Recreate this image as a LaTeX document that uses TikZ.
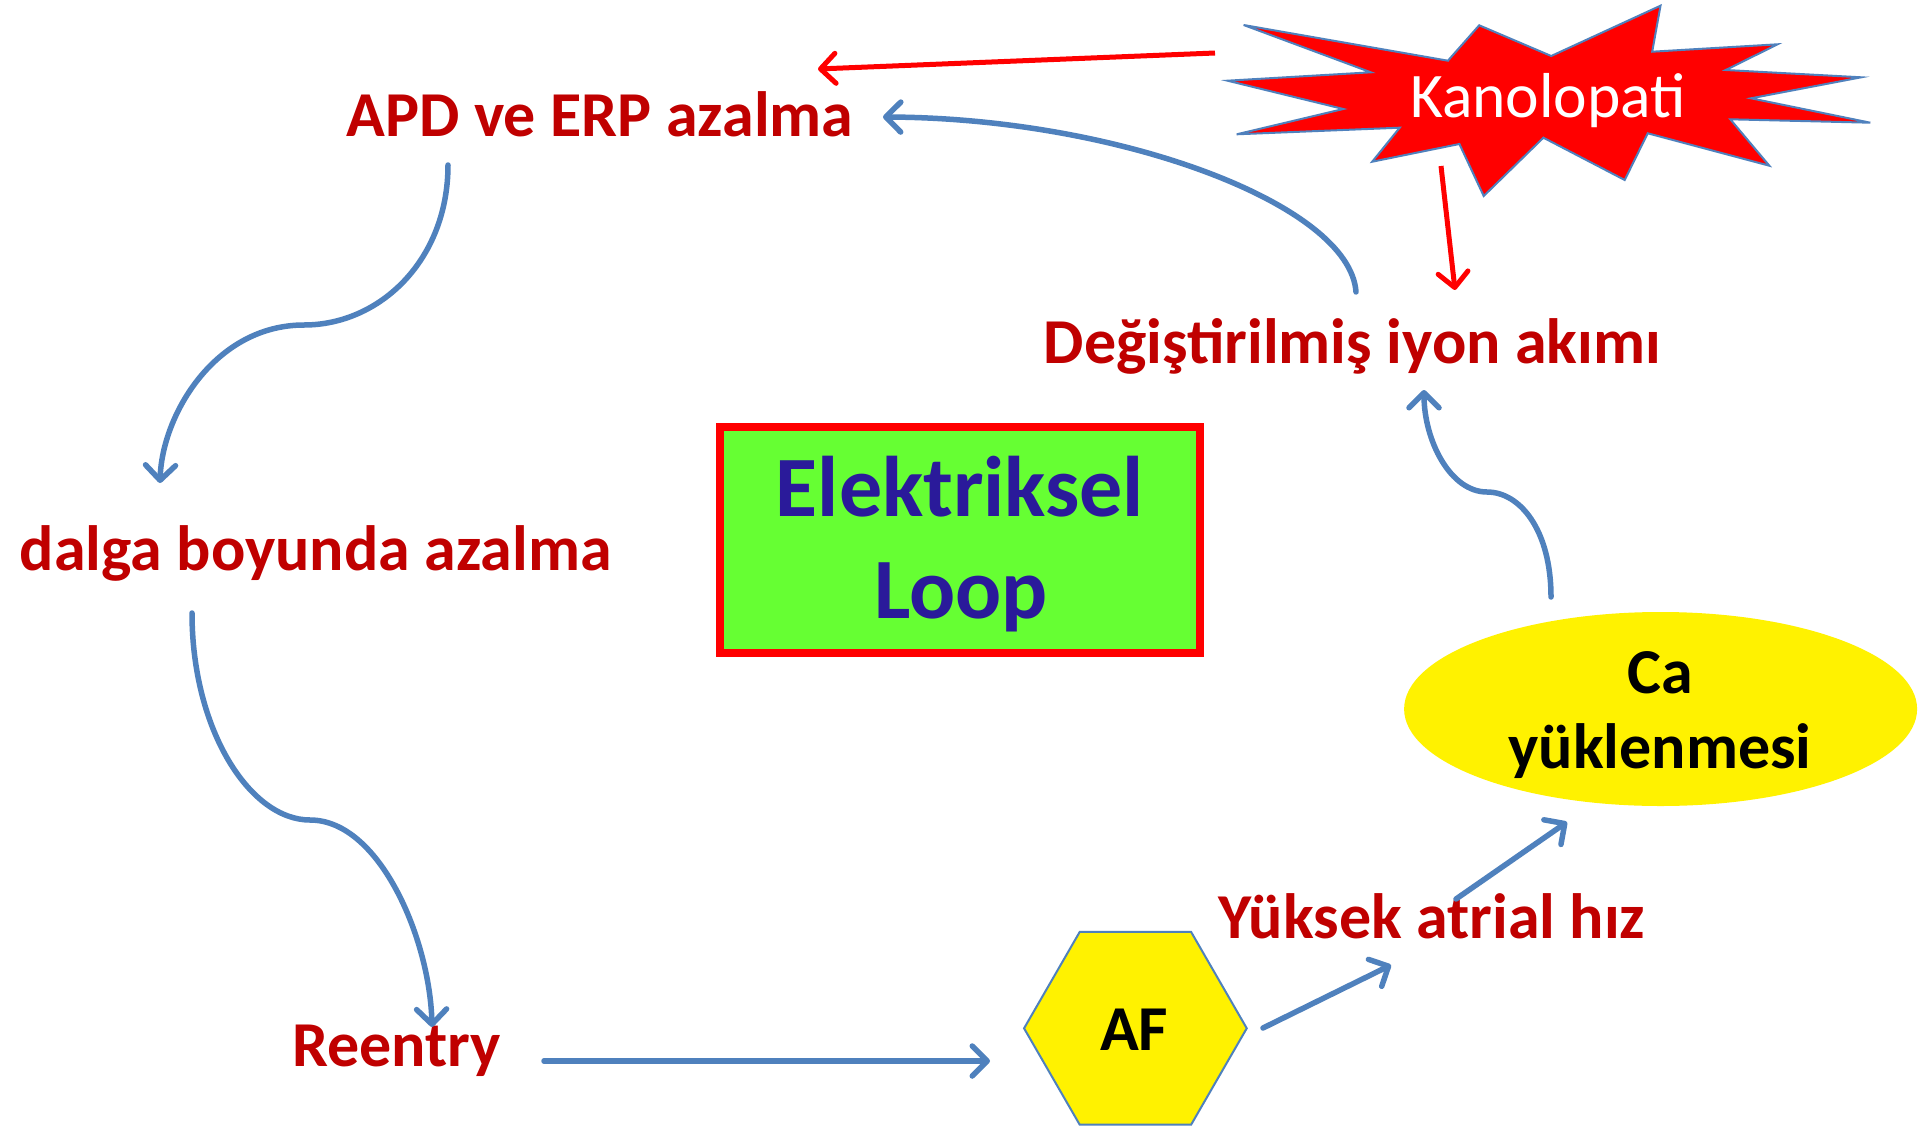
\documentclass[tikz,border=0pt]{standalone}
\usepackage{fontspec}
\setmainfont{Carlito}
\usetikzlibrary{arrows.meta,shapes.geometric}
\definecolor{dred}{HTML}{C00000}
\definecolor{lblue}{HTML}{4F81BD}
\definecolor{lgreen}{HTML}{66FF33}
\definecolor{dblue}{HTML}{2A1A9A}
\tikzset{
  lbl/.style={text=dred, font=\bfseries\fontsize{64}{76}\selectfont, inner sep=0pt, anchor=base},
  blk/.style={text=black, font=\bfseries\fontsize{64}{76}\selectfont, inner sep=0pt, anchor=base},
  bigtxt/.style={text=dblue, font=\bfseries\fontsize{86}{101}\selectfont, inner sep=0pt, anchor=base},
  barrow/.style={draw=lblue, line width=5.5pt, line cap=round,
    -{Straight Barb[length=15pt,width=30pt,round]}},
  rarrow/.style={draw=red, line width=5pt,
    -{Straight Barb[length=15pt,width=30pt,round]}},
}
\begin{document}
\begin{tikzpicture}[x=1pt,y=-1pt]
\useasboundingbox (0,0) rectangle (1920,1127);
\fill[white] (0,0) rectangle (1920,1127);

% starburst
\draw[fill=red, draw=lblue, line width=2pt, line join=miter]
  (1243.6,25) -- (1447.9,60.7) -- (1479.2,25.3) -- (1551.2,56) -- (1660.5,5.7)
  -- (1652.2,51.7) -- (1777.6,44.3) -- (1725.7,70) -- (1861.2,77.3) -- (1751,98.3)
  -- (1870.3,122.7) -- (1730.3,119.3) -- (1769.3,165.7) -- (1647.7,133.3)
  -- (1624.7,180) -- (1543.4,137.7) -- (1483.7,196) -- (1459.4,144)
  -- (1372.2,161.7) -- (1399.7,127.7) -- (1236.7,134.3) -- (1343.3,109)
  -- (1227.5,80.7) -- (1370.8,72.3) -- cycle;
\node[text=white, font=\fontsize{63.5}{75}\selectfont, inner sep=0pt, anchor=base] (kano) at (1548,117) {Kanolopati};

% central box
\node[draw=red, line width=8pt, fill=lgreen, minimum width=480pt, minimum height=226.6pt, inner sep=0pt] (loop) at (960,540) {};
\node[bigtxt] (loop1) at (960,516.7) {Elektriksel};
\node[bigtxt] (loop2) at (961,618.3) {Loop};

% ellipse
\node[ellipse, fill=yellow, minimum width=513pt, minimum height=194pt, inner sep=0pt] (ca) at (1660.6,709) {};
\node[blk] (ca1) at (1660,693.3) {Ca};
\node[blk] (ca2) at (1660,768.3) {yüklenmesi};

% hexagon
\node[regular polygon, regular polygon sides=6, fill=yellow, draw=lblue, line width=2pt, minimum size=222.7pt, inner sep=0pt] (af) at (1135.4,1028.3) {};
\node[blk] (aftxt) at (1134.2,1050) {AF};

% red labels
\node[lbl] (apd) at (600,136.7) {APD ve ERP azalma};
\node[lbl] (dalga) at (315.7,570) {dalga boyunda azalma};
\node[lbl] (deg) at (1352.5,363.3) {Değiştirilmiş iyon akımı};
\node[lbl] (reen) at (396.8,1066.7) {Reentry};
\node[lbl] (yuk) at (1432,938.3) {Yüksek atrial hız};

% connector ends
\coordinate (r1s) at (1215,53);   \coordinate (r1e) at (818,69);
\coordinate (r2s) at (1441,166);  \coordinate (r2e) at (1455,290);
\coordinate (b1s) at (1356,292);  \coordinate (b1e) at (883,117);
\coordinate (b2s) at (448,165);   \coordinate (b2m) at (304,325);  \coordinate (b2e) at (160,483);
\coordinate (b3s) at (192,613);   \coordinate (b3m) at (310,820);  \coordinate (b3e) at (432,1027);
\coordinate (b4s) at (544,1061);  \coordinate (b4e) at (990,1061);
\coordinate (b5s) at (1263,1028); \coordinate (b5e) at (1391,965);
\coordinate (b6s) at (1456,899);  \coordinate (b6e) at (1567,822);
\coordinate (b7s) at (1551,597);  \coordinate (b7m) at (1487,492); \coordinate (b7e) at (1424,390);

% red arrows
\draw[rarrow] (r1s) -- (r1e);
\draw[rarrow] (r2s) -- (r2e);

% blue arrows
\draw[barrow] (b1s) .. controls (1350,205) and (1120,118) .. (b1e);
\draw[barrow] (b2s) .. controls (448,260) and (380,325) .. (b2m)
                    .. controls (215,325) and (162,415) .. (b2e);
\draw[barrow] (b3s) .. controls (192,730) and (250,820) .. (b3m)
                    .. controls (380,820) and (430,940) .. (b3e);
\draw[barrow] (b4s) -- (b4e);
\draw[barrow] (b5s) -- (b5e);
\draw[barrow] (b6s) -- (b6e);
\draw[barrow] (b7s) .. controls (1551,530) and (1520,492) .. (b7m)
                    .. controls (1450,492) and (1424,440) .. (b7e);
\end{tikzpicture}
\end{document}
